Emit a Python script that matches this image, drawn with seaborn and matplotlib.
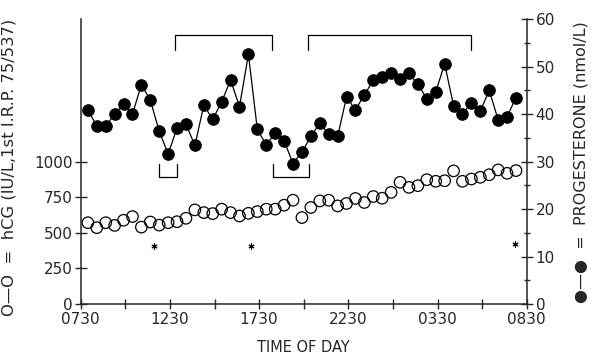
import matplotlib
matplotlib.use("Agg")
import matplotlib.pyplot as plt
import seaborn as sns
import numpy as np

# sample times, hours after 07:30
t_hours = [0.4, 0.9, 1.4, 1.9, 2.4, 2.9, 3.4, 3.9, 4.4, 4.9,
           5.4, 5.9, 6.4, 6.9, 7.4, 7.9, 8.4, 8.9, 9.4, 9.9,
           10.4, 10.9, 11.4, 11.9, 12.4, 12.9, 13.4, 13.9, 14.4, 14.9,
           15.4, 15.9, 16.4, 16.9, 17.4, 17.9, 18.4, 18.9, 19.4, 19.9,
           20.4, 20.9, 21.4, 21.9, 22.4, 22.9, 23.4, 23.9, 24.4]

# progesterone (nmol/L), filled circles, right axis
progesterone = [40.9, 37.5, 37.5, 40.0, 42.2, 40.0, 46.2, 43.0, 36.4, 31.6,
                37.1, 37.9, 33.4, 41.9, 38.9, 42.6, 47.2, 41.6, 52.6, 36.8,
                33.5, 36.0, 34.4, 29.6, 32.0, 35.3, 38.1, 35.8, 35.3, 43.6,
                40.9, 44.1, 47.1, 47.8, 48.6, 47.4, 48.6, 46.3, 43.3, 44.7,
                50.6, 41.8, 40.0, 42.4, 40.7, 45.0, 38.8, 39.5, 43.5]

# hCG (IU/L), open circles, left axis
hcg = [571, 536, 571, 552, 588, 614, 540, 576, 554, 571,
       578, 602, 661, 642, 635, 666, 642, 618, 637, 649,
       666, 666, 694, 729, 607, 678, 724, 729, 689, 706,
       741, 713, 755, 743, 784, 855, 819, 831, 873, 862,
       866, 935, 862, 878, 890, 908, 942, 918, 937]

# asterisks (hours, progesterone scale)
star_t = [4.1, 9.55, 24.35]
star_y = [12.2, 12.2, 12.6]

# brackets above (peaks) and below (troughs), in hours
top_brackets = [(5.3, 10.7), (12.75, 21.9)]
top_level = (56.6, 53.6)
bottom_brackets = [(4.4, 5.4), (10.8, 12.8)]
bottom_level = (29.5, 26.8)

xtick_labels = ["0730", "1230", "1730", "2230", "0330", "0830"]

sns.set_style("ticks")
plt.rcParams['font.family'] = ['DejaVu Sans']

fig = plt.figure(figsize=(5.94, 3.57), dpi=100)
ax = fig.add_axes([0.1359, 0.1485, 0.7508, 0.7975])
ax2 = ax.twinx()

# hCG open circles
sns.scatterplot(x=t_hours, y=hcg, ax=ax, marker='o', s=68,
                facecolors='none', edgecolor='black', linewidth=0.9)

# progesterone filled circles joined by lines
sns.lineplot(x=t_hours, y=progesterone, ax=ax2, color='black', linewidth=0.9,
             marker='o', markersize=8.3, markeredgecolor='black', sort=False)

ax2.scatter(star_t, star_y, marker=(6, 2, 0), s=14, color='black', linewidths=0.8)

for a, b in top_brackets:
    ax2.plot([a, a, b, b], [top_level[1], top_level[0], top_level[0], top_level[1]],
             color='black', linewidth=0.9)
for a, b in bottom_brackets:
    ax2.plot([a, a, b, b], [bottom_level[0], bottom_level[1], bottom_level[1], bottom_level[0]],
             color='black', linewidth=0.9)

ax.set_xlim(0, 25)
ax.set_ylim(0, 2000)
ax2.set_ylim(0, 60)

ax.set_xticks(np.arange(0, 25.1, 5))
ax.set_xticks(np.arange(0, 25.1, 2.5), minor=True)
ax.set_xticklabels(xtick_labels)
ax.set_yticks([0, 250, 500, 750, 1000])
ax2.set_yticks(np.arange(0, 61, 10))
ax2.set_yticks(np.arange(0, 61, 5), minor=True)

for a in (ax, ax2):
    a.spines['top'].set_visible(False)
    for s in a.spines.values():
        s.set_linewidth(1.1)
ax.spines['right'].set_visible(False)
ax2.spines['left'].set_visible(False)
ax2.spines['bottom'].set_visible(False)

ax.tick_params(axis='x', which='both', direction='inout', length=7, width=1, labelsize=11, pad=2)
ax.tick_params(axis='y', direction='inout', length=8, width=1, labelsize=11, pad=2)
ax2.tick_params(axis='y', which='major', direction='inout', length=9, width=1, labelsize=11, pad=2)
ax2.tick_params(axis='y', which='minor', direction='inout', length=5, width=1)

ax.set_xlabel("TIME OF DAY", fontsize=10.5)
ax.xaxis.set_label_coords(0.5, -0.128)
ax.set_ylabel("O—O  =  hCG (IU/L,1st I.R.P. 75/537)", fontsize=11.8)
ax.yaxis.set_label_coords(-0.145, 0.48)
ax2.set_ylabel("●—●  =  PROGESTERONE (nmol/L)", fontsize=11.5, rotation=90)
ax2.yaxis.set_label_coords(1.106, 0.5)

fig.savefig("out.png", dpi=100)
